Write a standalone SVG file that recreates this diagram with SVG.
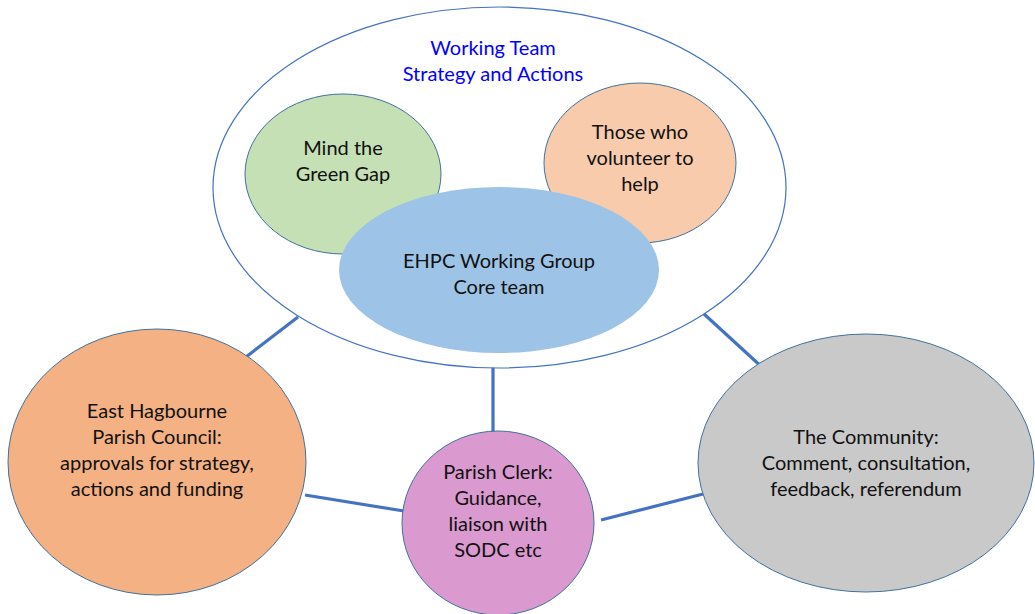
<svg xmlns="http://www.w3.org/2000/svg" width="1035" height="614" viewBox="0 0 1035 614">
  <style>
    .lbl { font-family: Lato, "Liberation Sans", sans-serif; font-size: 20px; fill: #111; text-anchor: middle; }
    .ttl { font-family: Lato, "Liberation Sans", sans-serif; font-size: 20px; fill: #0000FF; text-anchor: middle; }
    .node { stroke: #41719C; stroke-width: 1; }
    .link { stroke: #4472C4; stroke-width: 3.2; fill: none; }
  </style>
  <rect width="1035" height="614" fill="#ffffff"/>

  <!-- connectors between the working team and its partners -->
  <g id="connectors">
    <line class="link" x1="246" y1="357" x2="298" y2="317"/>
    <line class="link" x1="305" y1="495" x2="404" y2="511"/>
    <line class="link" x1="493" y1="367" x2="493" y2="432"/>
    <line class="link" x1="704" y1="314" x2="764" y2="369"/>
    <line class="link" x1="601" y1="520" x2="703" y2="494"/>
  </g>

  <!-- outer working team boundary -->
  <g id="working-team">
    <ellipse cx="499.5" cy="187.5" rx="286.5" ry="180.5" fill="#ffffff" stroke="#4472C4" stroke-width="1.2"/>
    <text class="ttl" x="493" y="55">Working Team</text>
    <text class="ttl" x="493" y="81">Strategy and Actions</text>
  </g>

  <g id="mind-the-green-gap">
    <ellipse class="node" cx="343" cy="174" rx="98" ry="80" fill="#C5E0B4"/>
    <text class="lbl" x="343" y="155">Mind the</text>
    <text class="lbl" x="343" y="181">Green Gap</text>
  </g>

  <g id="volunteers">
    <ellipse class="node" cx="640" cy="163" rx="96" ry="80" fill="#F8CBAD"/>
    <text class="lbl" x="640" y="139">Those who</text>
    <text class="lbl" x="640" y="165">volunteer to</text>
    <text class="lbl" x="640" y="191">help</text>
  </g>

  <g id="core-team">
    <ellipse cx="499" cy="270" rx="160" ry="83" fill="#9DC3E6"/>
    <text class="lbl" x="499" y="268">EHPC Working Group</text>
    <text class="lbl" x="499" y="294">Core team</text>
  </g>

  <g id="parish-council">
    <ellipse class="node" cx="157" cy="462" rx="149" ry="133" fill="#F4B183"/>
    <text class="lbl" x="157" y="418">East Hagbourne</text>
    <text class="lbl" x="157" y="444">Parish Council:</text>
    <text class="lbl" x="157" y="470">approvals for strategy,</text>
    <text class="lbl" x="157" y="496">actions and funding</text>
  </g>

  <g id="parish-clerk">
    <ellipse class="node" cx="498" cy="523" rx="96" ry="92" fill="#DA9ACF"/>
    <text class="lbl" x="498" y="479">Parish Clerk:</text>
    <text class="lbl" x="498" y="505">Guidance,</text>
    <text class="lbl" x="498" y="531">liaison with</text>
    <text class="lbl" x="498" y="557">SODC etc</text>
  </g>

  <g id="community">
    <ellipse class="node" cx="866" cy="463" rx="168" ry="129" fill="#C9C9C9"/>
    <text class="lbl" x="866" y="444">The Community:</text>
    <text class="lbl" x="866" y="470">Comment, consultation,</text>
    <text class="lbl" x="866" y="496">feedback, referendum</text>
  </g>
</svg>
